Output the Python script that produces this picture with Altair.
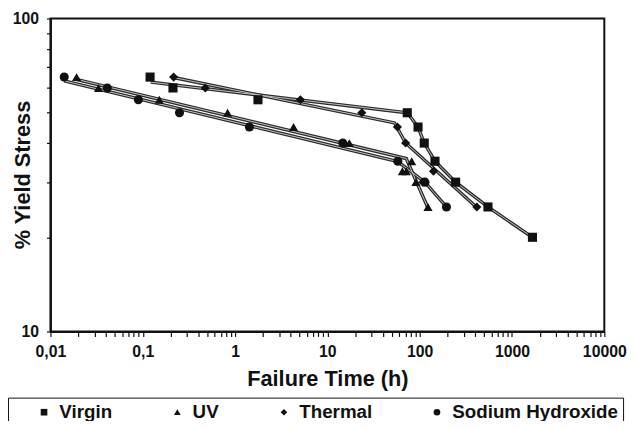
import altair as alt
import pandas as pd

series_names = ["Virgin", "UV", "Thermal", "Sodium Hydroxide"]

# measured points (failure time in h, % yield stress)
virgin_t = [0.120, 0.2125, 1.77, 73.3, 96.0, 112, 146.5, 245, 549, 1665]
virgin_s = [65, 60, 55, 50, 45, 40, 35, 30, 25, 20]
uv_t = [0.0192, 0.0331, 0.151, 0.830, 4.30, 17.3, 81.9, 64.9, 71.5, 91.0, 123]
uv_s = [65, 60, 55, 50, 45, 40, 35, 32.5, 32.5, 30, 25]
thermal_t = [0.216, 0.476, 5.10, 23.6, 57.4, 70.4, 141, 108, 416]
thermal_s = [65, 60, 55, 50, 45, 40, 32.5, 30, 25]
naoh_t = [0.0141, 0.0413, 0.0896, 0.250, 1.43, 14.7, 57.9, 114, 195]
naoh_s = [65, 60, 55, 50, 45, 40, 35, 30, 25]

# trend lines
virgin_fit_t = [0.122, 73.3, 96.0, 112, 146.5, 245, 549, 1665]
virgin_fit_s = [62.6, 50, 45, 40, 35, 30, 25, 20]
uv_fit_t = [0.0180, 71.5, 123]
uv_fit_s = [64.2, 35.7, 24.8]
thermal_fit_t = [0.216, 53.4, 70.4, 416]
thermal_fit_s = [64.8, 46.4, 40.0, 24.9]
naoh_fit_t = [0.0141, 57.9, 114, 195]
naoh_fit_s = [63.2, 34.9, 30, 25]

x_decades = [0.01, 0.1, 1, 10, 100, 1000, 10000]
y_ticks = [10, 20, 30, 40, 50, 60, 70, 80, 90, 100]

pts_rows = []
for name, ts, ss in zip(series_names, [virgin_t, uv_t, thermal_t, naoh_t],
                        [virgin_s, uv_s, thermal_s, naoh_s]):
    for t, s in zip(ts, ss):
        pts_rows.append({"series": name, "t": t, "s": s})
pts = pd.DataFrame(pts_rows)

fit_rows = []
for name, ts, ss in zip(series_names,
                        [virgin_fit_t, uv_fit_t, thermal_fit_t, naoh_fit_t],
                        [virgin_fit_s, uv_fit_s, thermal_fit_s, naoh_fit_s]):
    for i, (t, s) in enumerate(zip(ts, ss)):
        fit_rows.append({"series": name, "t": t, "s": s, "i": i})
fits = pd.DataFrame(fit_rows)

x_ticks = []
for d in x_decades[:-1]:
    for m in range(1, 10):
        x_ticks.append(round(m * d, 6))
x_ticks.append(10000)

FONT = "Liberation Sans"

x_scale = alt.Scale(type="log", domain=[0.01, 10000], nice=False)
y_scale = alt.Scale(type="log", domain=[10, 100], nice=False)

x_axis = alt.Axis(
    values=x_ticks,
    labelExpr="datum.value == 0.01 ? '0,01' : datum.value == 0.1 ? '0,1' : "
              "indexof([1,10,100,1000,10000], datum.value) >= 0 ? format(datum.value, 'd') : ''",
    title="Failure Time (h)", grid=False, tickSize=5, tickColor="#111",
    tickWidth=1.2, domainColor="#111", domainWidth=2,
    labelFont=FONT, labelFontSize=16, labelFontWeight="bold", labelColor="#111",
    labelPadding=7, labelFlush=False, labelOverlap=False,
    titleFont=FONT, titleFontSize=22, titleFontWeight="bold", titleColor="#111",
    titleY=48, titleBaseline="middle",
)
y_axis = alt.Axis(
    values=y_ticks,
    labelExpr="datum.value == 10 || datum.value == 100 ? format(datum.value, 'd') : ''",
    title="% Yield Stress", grid=False, tickSize=4, tickColor="#111",
    tickWidth=1.2, domainColor="#111", domainWidth=2,
    labelFont=FONT, labelFontSize=16, labelFontWeight="bold", labelColor="#111",
    labelPadding=8, labelOverlap=False,
    titleFont=FONT, titleFontSize=22, titleFontWeight="bold", titleColor="#111",
    titleX=-28, titleY=158, titleAngle=270, titleBaseline="middle", titleAlign="center",
)

X = alt.X("t:Q", scale=x_scale, axis=x_axis)
Y = alt.Y("s:Q", scale=y_scale, axis=y_axis)

line_outer = alt.Chart(fits).mark_line(color="#2a2a2a", strokeWidth=3.4).encode(
    x=X, y=Y, detail="series:N", order="i:Q")
line_inner = alt.Chart(fits).mark_line(color="#c4c4c4", strokeWidth=1.0).encode(
    x=X, y=Y, detail="series:N", order="i:Q")

points = alt.Chart(pts).mark_point(filled=True, color="#111", opacity=1, size=85).encode(
    x=X, y=Y,
    shape=alt.Shape("series:N",
                    scale=alt.Scale(domain=series_names,
                                    range=["square", "triangle-up", "diamond", "circle"]),
                    legend=alt.Legend(
                        orient="none", legendX=-43, legendY=384, direction="horizontal",
                        title=None, strokeColor="#111", padding=5, symbolOffset=22,
                        columnPadding=34, labelFont=FONT, labelFontSize=19,
                        labelFontWeight="bold", labelColor="#111", labelLimit=400,
                        symbolSize=45, symbolFillColor="#111", symbolStrokeColor="#111",
                        labelOffset=6)),
)

chart = alt.layer(line_outer, line_inner, points).properties(
    width=561, height=317,
    padding={"left": 43, "top": 8, "right": 25, "bottom": 88},
    autosize="none",
    background="white",
).configure_view(stroke="#111", strokeWidth=2)

chart.save("out.html", embed_options={"renderer": "svg", "actions": False})
